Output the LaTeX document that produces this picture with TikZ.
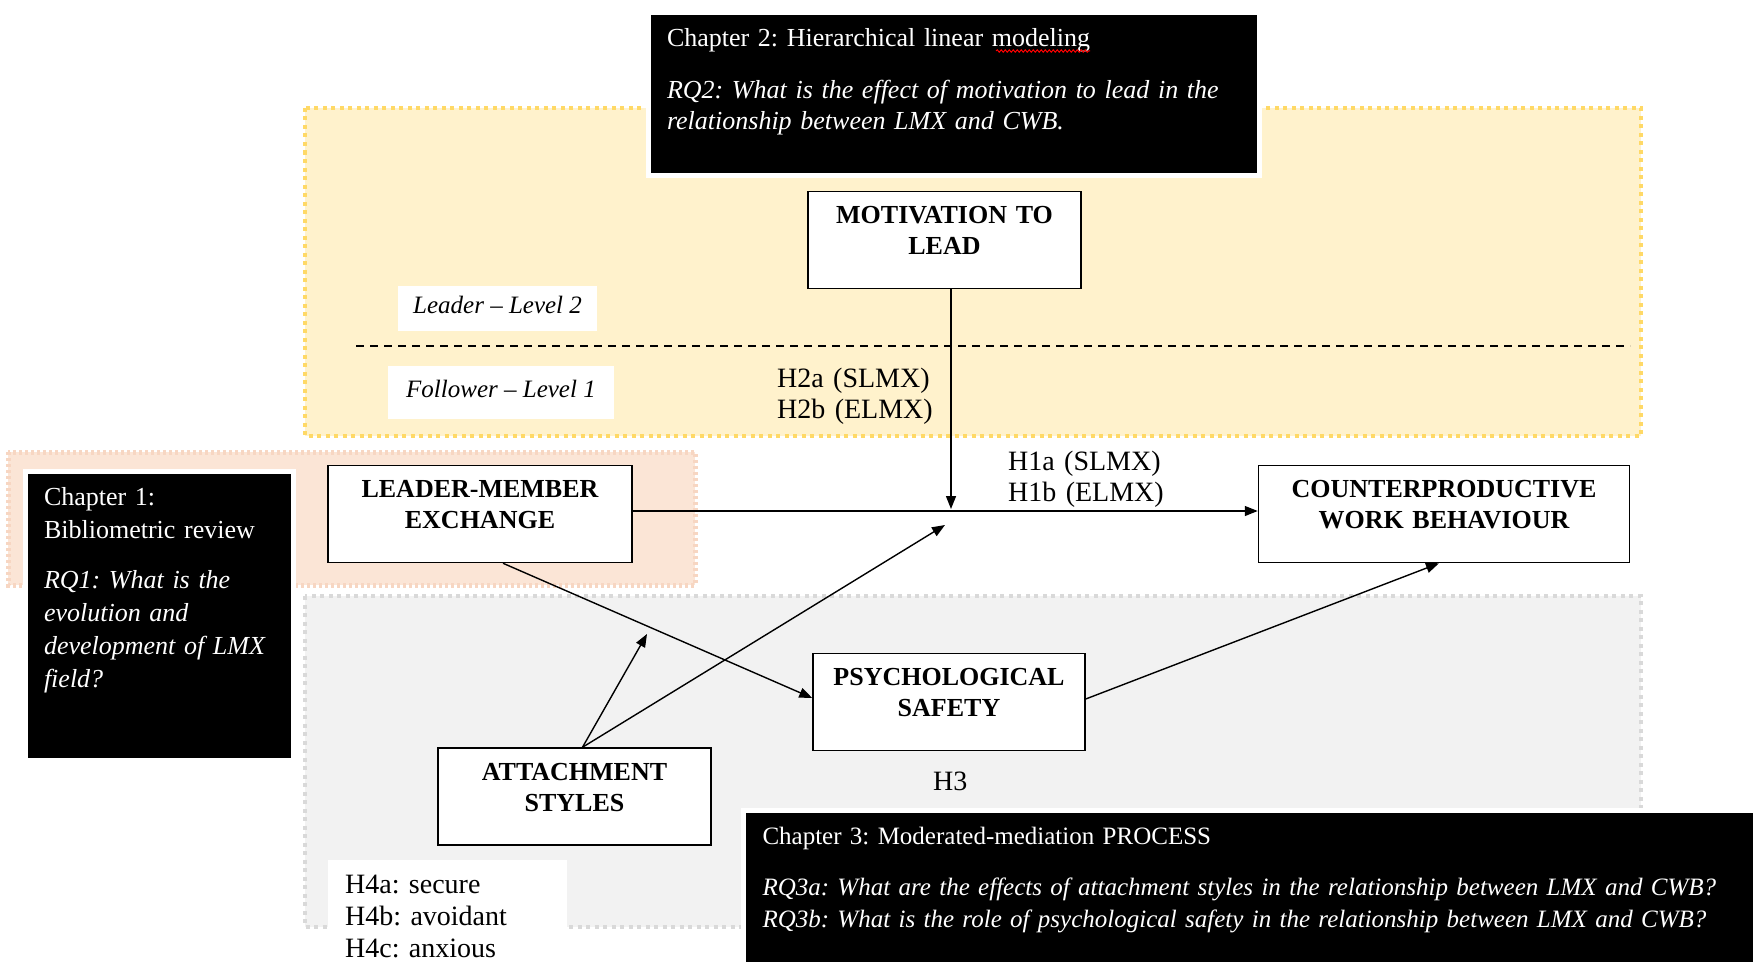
\documentclass[tikz,border=0pt]{standalone}
\usepackage{fontspec}
\setmainfont{Liberation Serif}
\usetikzlibrary{arrows.meta,positioning,calc,decorations.pathmorphing}

\definecolor{zoneyellow}{HTML}{FFF2CC}
\definecolor{edgeyellow}{HTML}{FFD966}
\definecolor{zonepink}{HTML}{FBE5D6}
\definecolor{edgepink}{HTML}{F7D6C2}
\definecolor{zonegrey}{HTML}{F2F2F2}
\definecolor{edgegrey}{HTML}{D9D9D9}

\newcommand{\lblfont}{\fontsize{26}{31}\selectfont\bfseries}
\newcommand{\chapfont}{\fontsize{26}{31}\selectfont}
\newcommand{\hypfont}{\fontsize{28}{31}\selectfont}
\newcommand{\lvlfont}{\fontsize{25}{30}\selectfont\itshape}
\frenchspacing

\begin{document}
\begin{tikzpicture}[x=1pt, y=-1pt,
    mbox/.style={draw, fill=white, line width=1.5pt, align=center, font=\lblfont,
      inner xsep=8pt, inner ysep=14pt, text height=18pt, text depth=51pt, text width=#1},
    chapbox/.style={fill=black, draw=white, line width=5pt, text=white, align=left,
      font=\chapfont, inner xsep=19pt, inner ysep=16pt, text height=18pt, anchor=north west},
    lvlbox/.style={fill=white, font=\lvlfont, text height=19pt, text depth=10pt, anchor=base west},
    hyp/.style={font=\hypfont, align=left, inner sep=0pt, text width=220pt, text height=20pt, anchor=north west},
    zone/.style 2 args={draw=#1, fill=#2, dash pattern=on 4pt off 4.5pt},
    conn/.style={line width=1.4pt, -{Triangle[length=13pt,width=10pt]}}]
    \useasboundingbox (0,0) rectangle (1753,963);
    \fill[white] (0,0) rectangle (1753,963);

    % Levels and chapters (shaded zones)
    \draw[zone={edgeyellow}{zoneyellow}, line width=4pt] (305,108) rectangle (1641,436);
    \draw[zone={edgepink}{zonepink}, line width=5pt, dash pattern=on 3pt off 3pt] (8,452) rectangle (695,585);
    \draw[zone={edgegrey}{zonegrey}, line width=3.5pt] (305,596) rectangle (1641,927);

    % Leader / follower split
    \node[lvlbox, inner xsep=15pt, inner ysep=8pt] (leader) at (398,313) {Leader -- Level 2};
    \node[lvlbox, inner xsep=18pt, inner ysep=12pt] (follower) at (388,397) {Follower -- Level 1};
    \draw[line width=1.5pt, dash pattern=on 8pt off 6pt] (356,346) -- (1630,346);

    % Constructs
    \node[mbox=257pt] (mtl) at (944.5,240) {MOTIVATION TO\\LEAD};
    \node[mbox=288pt] (lmx) at (480,514) {LEADER-MEMBER\\EXCHANGE};
    \node[mbox=355pt, right=625pt of lmx] (cwb) {COUNTERPRODUCTIVE\\WORK BEHAVIOUR};
    \node[mbox=256pt] (ps) at (949,702) {PSYCHOLOGICAL\\SAFETY};
    \node[mbox=257pt] (as) at (574.5,796.5) {ATTACHMENT\\STYLES};

    % Paths
    \coordinate (meet) at (951,509);
    \coordinate (onpath) at (647,634);
    \coordinate (onmain) at (945,525);
    \draw[conn] (mtl.south -| meet) -- (meet);
    \draw[conn] ([yshift=3pt]lmx.east) -- ([yshift=3pt]cwb.west);
    \draw[conn] ([xshift=23pt]lmx.south) -- ([yshift=4pt]ps.west);
    \draw[conn] ([yshift=3pt]ps.east) -- ([xshift=-5pt]cwb.south);
    \draw[conn] ([xshift=8pt]as.north) -- (onpath);
    \draw[conn] ([xshift=8pt]as.north) -- (onmain);

    % Hypotheses
    \node[hyp] (h2) at (777,367) {H2a (SLMX)\\H2b (ELMX)};
    \node[hyp] (h1) at (1008,450) {H1a (SLMX)\\H1b (ELMX)};
    \node[hyp] (h3) at (933,770) {H3};
    \node[hyp, fill=white, inner xsep=17pt, inner ysep=13pt, text width=205pt, text depth=70pt,
      font=\fontsize{28}{32}\selectfont] (h4) at (328,860) {H4a: secure\\H4b: avoidant\\H4c: anxious};

    % Chapter boxes
    \node[chapbox, text width=573pt, text depth=112pt] (ch2) at (645.5,10.5)
      {Chapter 2: Hierarchical linear modeling\\[21pt]\itshape RQ2: What is the effect of motivation to lead in the\\relationship between LMX and CWB.};
    \draw[red, line width=1pt, decorate, decoration={snake, amplitude=1.2pt, segment length=4pt}] (996,51) -- (1090,51);
    \node[chapbox, text width=230pt, text depth=239pt, font=\fontsize{26}{33}\selectfont] (ch1) at (22.5,468.5)
      {Chapter 1:\\Bibliometric review\\[17pt]\itshape RQ1: What is the\\evolution and\\development of LMX\\field?};
    \node[chapbox, text width=1040pt, text depth=103.5pt, font=\fontsize{25}{32}\selectfont] (ch3) at (741,808)
      {Chapter 3: Moderated-mediation PROCESS\\[19pt]\itshape RQ3a: What are the effects of attachment styles in the relationship between LMX and CWB?\\RQ3b: What is the role of psychological safety in the relationship between LMX and CWB?};
\end{tikzpicture}
\end{document}
